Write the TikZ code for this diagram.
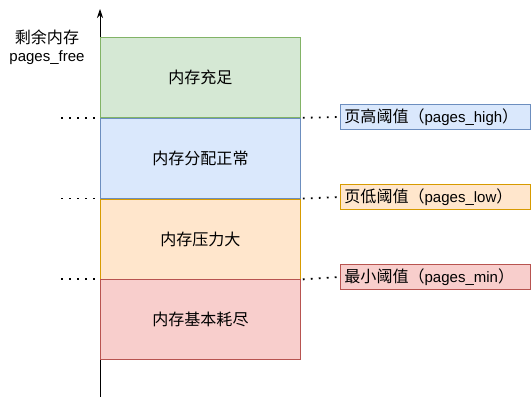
\documentclass[tikz,border=0pt]{standalone}
\usepackage{fontspec}
\setmainfont{Liberation Sans}
\newfontfamily\cjk[Scale=1.07]{Noto Sans CJK SC}
\definecolor{GreenFill}{HTML}{D5E8D4}
\definecolor{GreenLine}{HTML}{82B366}
\definecolor{BlueFill}{HTML}{DAE8FC}
\definecolor{BlueLine}{HTML}{6C8EBF}
\definecolor{OrangeFill}{HTML}{FFE6CC}
\definecolor{OrangeLine}{HTML}{D79B00}
\definecolor{RedFill}{HTML}{F8CECC}
\definecolor{RedLine}{HTML}{B85450}
\usetikzlibrary{positioning, arrows.meta}

\begin{document}
\begin{tikzpicture}[x=1pt,y=-1pt,
    font=\fontsize{15}{18}\selectfont,
    membox/.style={draw, line width=0.8pt, minimum width=200pt, minimum height=80pt, inner sep=0pt},
    tagbox/.style={draw, line width=0.8pt, anchor=west, text width=182pt, inner sep=4pt, minimum height=20pt, align=left},
    dots/.style={line width=1.8pt, dash pattern=on 1.8pt off 6.2pt}]
  \useasboundingbox (0,0) rectangle (531,406);

  % axis
  \coordinate (base) at (100,397);
  \coordinate (tip) at (100,9);
  \draw[-{Stealth[length=9pt,width=6pt]}, line width=0.8pt] (base) -- (tip);
  \node[align=center] (ylabel) at (47,47) {{\cjk 剩余内存}\\pages\_free};

  % memory states
  \node[membox, fill=GreenFill, draw=GreenLine, anchor=north west] (mem1) at (100,37) {\cjk 内存充足};
  \node[membox, fill=BlueFill, draw=BlueLine, below=0pt of mem1] (mem2) {\cjk 内存分配正常};
  \node[membox, fill=OrangeFill, draw=OrangeLine, below=0pt of mem2] (mem3) {\cjk 内存压力大};
  \node[membox, fill=RedFill, draw=RedLine, below=0pt of mem3] (mem4) {\cjk 内存基本耗尽};

  % thresholds
  \node[tagbox, fill=BlueFill, draw=BlueLine] (high) at (340,117) {{\cjk 页高阈值（}pages\_high{\cjk ）}};
  \node[tagbox, fill=OrangeFill, draw=OrangeLine] (low) at (340,197) {{\cjk 页低阈值（}pages\_low{\cjk ）}};
  \node[tagbox, fill=RedFill, draw=RedLine] (min) at (340,277) {{\cjk 最小阈值（}pages\_min{\cjk ）}};

  \foreach \m/\t in {mem2/high, mem3/low, mem4/min}
  {
    \coordinate (\t-l) at ([xshift=-39pt]\m.north west);
    \draw[dots] (\t-l) -- ([xshift=-5pt]\m.north west);
    \draw[dots] ([xshift=2pt]\m.north east) -- (\t.west);
  }
\end{tikzpicture}
\end{document}
